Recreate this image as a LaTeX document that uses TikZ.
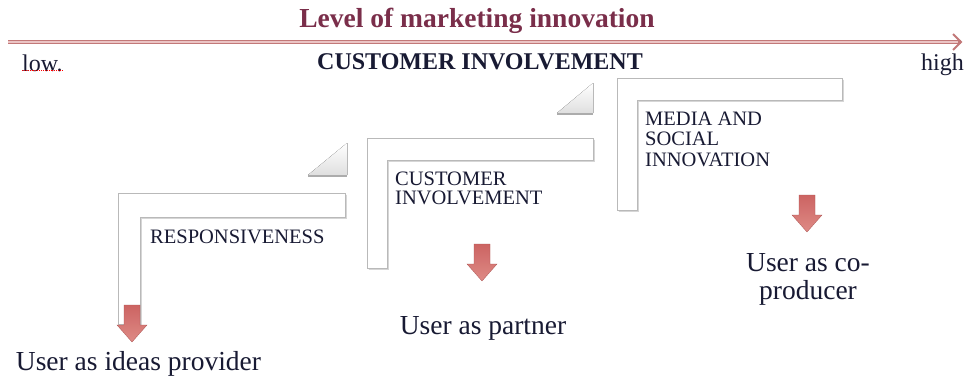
\documentclass[tikz,border=0pt]{standalone}
\usepackage{fontspec}
\setmainfont{Liberation Serif}
\usetikzlibrary{shadows}
\definecolor{axisc}{HTML}{C27878}
\definecolor{axisin}{HTML}{EBC4C4}
\definecolor{titlec}{HTML}{7A2E4A}
\definecolor{arrtop}{HTML}{CC6462}
\definecolor{arrbot}{HTML}{DE8A86}
\definecolor{txtc}{HTML}{181A33}
\tikzset{
  lbar/.style={fill=white, draw=gray!55, line width=0.8pt,
    drop shadow={shadow xshift=1.8pt, shadow yshift=-1.8pt, opacity=0.45, fill=gray!70}},
  foldtri/.style={top color=white, bottom color=gray!25, draw=none},
  foldedge/.style={draw=gray!65, line width=2.2pt},
  foldside/.style={draw=gray!55, line width=0.6pt},
  boxtext/.style={font=\fontsize{20.5}{19}\selectfont, text=txtc, align=left, anchor=north west, inner sep=0pt},
  usertext/.style={font=\fontsize{27.5}{28}\selectfont, text=txtc, inner sep=0pt, align=center},
  downarrow/.pic={
    \shade[top color=arrtop, bottom color=arrbot, draw=arrtop!85!black, line width=0.3pt]
      (-8,0) -- (8,0) -- (8,20) -- (15,20) -- (0,37) -- (-15,20) -- (-8,20) -- cycle;
  },
}
\begin{document}
\begin{tikzpicture}[x=1pt,y=-1pt]
\useasboundingbox[fill=white] (0,0) rectangle (964,378);

% axis
\coordinate (axL) at (8,42);
\coordinate (axR) at (961,42);
\draw[axisc, line width=4.6pt] (axL) -- (axR);
\draw[axisin, line width=1.3pt] (axL) -- ([xshift=-3pt]axR);
\draw[axisc, line width=1.8pt] ([shift={(-8,-8)}]axR) -- (axR) -- ([shift={(-8,8)}]axR);

\node[font=\bfseries\fontsize{27.5}{30}\selectfont, text=titlec, inner sep=0pt] (title) at (477,21) {Level of marketing innovation};
\node[font=\bfseries\fontsize{24}{26}\selectfont, text=txtc, inner sep=0pt] (ci) at (480,62) {CUSTOMER INVOLVEMENT};
\node[font=\fontsize{24}{26}\selectfont, text=txtc, inner sep=0pt, anchor=west] (low) at (22,63) {low.};
\node[font=\fontsize{24}{26}\selectfont, text=txtc, inner sep=0pt, anchor=west] (high) at (921,65) {high};
\draw[red, line width=0.9pt, densely dotted] ([yshift=1pt]low.south west) -- ([yshift=1pt]low.south east);

% step 1
\fill[foldtri] (308,175) -- (347,175) -- (347,143) -- cycle;
\draw[foldside] (347,143) -- (347,175);
\draw[foldedge] (308,176) -- (347,176);
\draw[lbar] (118,193) -- (345,193) -- (345,217) -- (140,217) -- (140,324) -- (118,324) -- cycle;
\node[boxtext] (t1) at (150,229.5) {RESPONSIVENESS};
\pic (a1) at (132,305) {downarrow};
\node[usertext] (u1) at (138.5,364) {User as ideas provider};

% step 2
\fill[foldtri] (557,113) -- (593,113) -- (593,83) -- cycle;
\draw[foldside] (593,83) -- (593,113);
\draw[foldedge] (557,114) -- (593,114);
\draw[lbar] (367,138) -- (593,138) -- (593,160) -- (387,160) -- (387,268) -- (367,268) -- cycle;
\node[boxtext] (t2) at (395,171.5) {CUSTOMER\\INVOLVEMENT};
\pic (a2) at (482,244) {downarrow};
\node[usertext] (u2) at (483,328) {User as partner};

% step 3
\draw[lbar] (617,78) -- (842,78) -- (842,100) -- (637,100) -- (637,210) -- (617,210) -- cycle;
\node[boxtext, font=\fontsize{20.5}{20.5}\selectfont] (t3) at (645,111.5) {MEDIA AND\\SOCIAL\\INNOVATION};
\pic (a3) at (807,195) {downarrow};
\node[usertext] (u3) at (808,279) {User as co-\\producer};
\end{tikzpicture}
\end{document}
